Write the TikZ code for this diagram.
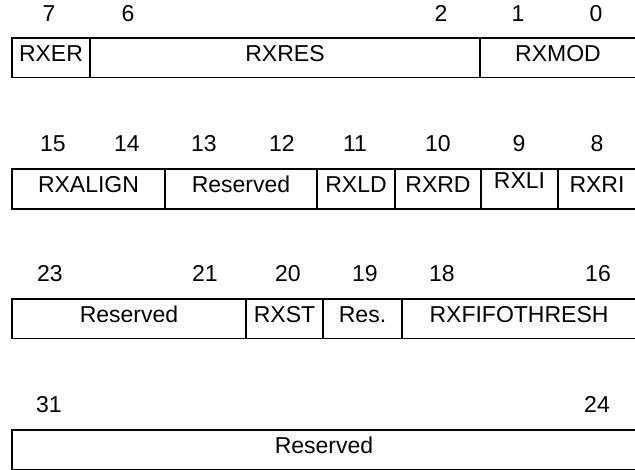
\documentclass[tikz,border=0pt]{standalone}
\usepackage{fontspec}
\setmainfont{Liberation Sans}
\usetikzlibrary{positioning}
\newcommand\regfont{\fontsize{23}{27}\selectfont}

\begin{document}
\begin{tikzpicture}[
  x=1pt, y=-1pt,
  node distance=0pt,
  field/.style={rectangle, draw=black, line width=1.6pt, outer sep=0pt, inner sep=0pt,
                minimum height=39.5pt, text height=0.69em, text depth=0pt, font=\regfont},
  bitnum/.style={inner sep=0pt, text height=0.69em, text depth=0pt, font=\regfont}
]
\useasboundingbox (0,0) rectangle (635,470);

% bits 7..0
\node[bitnum] (b7) at (49,18.3)  {7};
\node[bitnum] (b6) at (128,18.3) {6};
\node[bitnum] (b2) at (441,18.3) {2};
\node[bitnum] (b1) at (518,18.3) {1};
\node[bitnum] (b0) at (596,18.3) {0};
\node[field, minimum width=78pt, anchor=north west] (rxer) at (12,38) {RXER};
\node[field, minimum width=390pt, right=of rxer]  (rxres) {RXRES};
\node[field, minimum width=156pt, right=of rxres] (rxmod) {RXMOD};

% bits 15..8
\node[bitnum] (b15) at (53,148.3)  {15};
\node[bitnum] (b14) at (127,148.3) {14};
\node[bitnum] (b13) at (204,148.3) {13};
\node[bitnum] (b12) at (282,148.3) {12};
\node[bitnum] (b11) at (355,148.3) {11};
\node[bitnum] (b10) at (438,148.3) {10};
\node[bitnum] (b9)  at (519,148.3) {9};
\node[bitnum] (b8)  at (597,148.3) {8};
\node[field, minimum width=153pt, anchor=north west] (rxalign) at (12,169.3) {RXALIGN};
\node[field, minimum width=152pt, right=of rxalign] (resa) {Reserved};
\node[field, minimum width=78pt, right=of resa]     (rxld) {RXLD};
\node[field, minimum width=86pt, right=of rxld]     (rxrd) {RXRD};
\node[field, minimum width=77pt, right=of rxrd]     (rxli) {\raisebox{4pt}{RXLI}};
\node[field, minimum width=78pt, right=of rxli]     (rxri) {RXRI};

% bits 23..16
\node[bitnum] (b23) at (50,278.3)  {23};
\node[bitnum] (b21) at (205,278.3) {21};
\node[bitnum] (b20) at (288,278.3) {20};
\node[bitnum] (b19) at (365,278.3) {19};
\node[bitnum] (b18) at (442,278.3) {18};
\node[bitnum] (b16) at (598,278.3) {16};
\node[field, minimum width=234pt, anchor=north west] (resb) at (12,299) {Reserved};
\node[field, minimum width=77pt, right=of resb]  (rxst) {RXST};
\node[field, minimum width=79pt, right=of rxst]  (resc) {Res.};
\node[field, minimum width=234pt, right=of resc] (rxfifo) {RXFIFOTHRESH};

% bits 31..24
\node[bitnum] (b31) at (49,409.3)  {31};
\node[bitnum] (b24) at (597,409.3) {24};
\node[field, minimum width=624pt, anchor=north west] (resd) at (12,430) {Reserved};
\end{tikzpicture}
\end{document}
